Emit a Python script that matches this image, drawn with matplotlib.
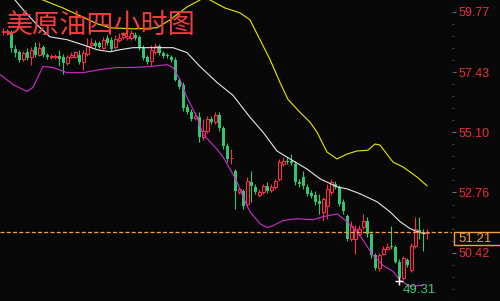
import matplotlib
matplotlib.use('Agg')
import matplotlib.pyplot as plt
import matplotlib.transforms as mtransforms
from matplotlib.patches import Rectangle
import numpy as np

bg = '#080808'
up_col = '#f5304a'
down_col = '#35c46f'

# four-hour candles (price units)
opens = [59.00, 59.00, 59.00, 58.34, 58.22, 57.95, 58.22, 58.03, 58.42, 58.11,
         58.42, 58.11, 58.03, 58.03, 58.07, 58.03, 57.80, 58.03, 58.03, 58.11,
         57.84, 58.15, 58.49, 58.57, 58.57, 58.38, 58.77, 58.69, 58.42, 58.69,
         58.80, 58.77, 58.77, 58.88, 58.80, 58.38, 58.03, 57.88, 58.22, 58.46,
         58.19, 58.11, 58.03, 57.92, 57.14, 56.95, 56.06, 55.87, 55.64, 55.68,
         54.91, 55.14, 55.60, 55.49, 55.76, 55.25, 54.56, 54.08, 53.59, 52.78,
         52.82, 52.32, 53.17, 52.98, 52.67, 52.78, 53.02, 52.86, 52.98, 53.29,
         53.86, 53.98, 53.98, 53.86, 53.17, 53.36, 52.98, 52.75, 52.67, 52.44,
         52.01, 52.24, 52.78, 53.09, 52.98, 52.40, 51.86, 50.97, 50.97, 51.16,
         51.43, 51.67, 51.16, 50.32, 49.82, 50.39, 50.58, 50.67, 50.66, 50.08,
         49.43, 50.12, 49.74, 50.70, 51.32, 51.20, 51.19]
highs = [59.15, 59.11, 59.07, 58.49, 58.30, 58.26, 58.38, 58.42, 58.61, 58.61,
         58.49, 58.19, 58.15, 58.15, 58.30, 58.15, 58.11, 58.22, 58.26, 58.30,
         58.30, 58.77, 58.77, 58.69, 58.65, 58.80, 58.88, 58.80, 58.88, 58.96,
         59.00, 58.96, 59.07, 59.00, 58.88, 58.49, 58.11, 58.49, 58.57, 58.53,
         58.26, 58.19, 58.11, 58.03, 57.22, 57.03, 56.18, 55.99, 55.87, 55.87,
         55.60, 55.72, 55.72, 55.87, 55.87, 55.33, 54.67, 54.44, 53.67, 52.98,
         52.90, 53.36, 53.59, 53.09, 52.90, 53.09, 53.17, 53.09, 53.29, 54.06,
         54.14, 54.14, 54.25, 53.98, 53.29, 53.59, 53.09, 52.86, 52.82, 52.71,
         52.59, 53.09, 53.29, 53.21, 53.05, 52.51, 51.93, 51.67, 51.51, 51.51,
         51.93, 51.82, 51.28, 50.43, 50.43, 50.70, 50.78, 51.47, 50.74, 50.16,
         50.28, 50.20, 50.78, 51.82, 51.82, 51.36, 51.36]
lows = [58.88, 58.88, 58.22, 58.03, 57.84, 57.88, 57.92, 57.72, 58.03, 58.07,
        58.03, 57.95, 57.95, 57.95, 57.68, 57.34, 57.72, 57.99, 57.99, 57.76,
        57.53, 58.07, 58.42, 58.38, 58.38, 58.34, 58.49, 58.26, 58.34, 58.61,
        58.73, 58.69, 58.69, 58.69, 58.30, 57.92, 57.76, 57.65, 58.15, 58.11,
        57.99, 57.99, 57.84, 57.07, 56.76, 55.91, 55.80, 55.52, 55.56, 54.71,
        54.79, 55.06, 55.41, 55.41, 55.14, 54.44, 53.94, 53.86, 52.13, 52.71,
        52.13, 52.24, 52.40, 52.71, 52.59, 52.71, 52.75, 52.78, 52.90, 53.21,
        53.79, 53.86, 53.83, 53.05, 52.98, 52.90, 52.63, 52.55, 52.28, 51.93,
        51.67, 51.74, 52.67, 52.90, 52.24, 51.93, 50.89, 50.89, 50.39, 51.09,
        51.36, 51.05, 50.20, 49.74, 49.70, 50.32, 50.51, 50.58, 50.01, 49.31,
        49.35, 49.85, 49.66, 50.62, 50.97, 50.47, 50.97]
closes = [59.01, 59.01, 58.38, 58.19, 57.92, 58.19, 57.99, 58.30, 58.11, 58.38,
          58.11, 58.03, 58.07, 58.07, 57.95, 57.80, 58.03, 58.11, 58.22, 57.84,
          58.19, 58.46, 58.57, 58.46, 58.42, 58.69, 58.57, 58.34, 58.73, 58.77,
          58.88, 58.84, 58.96, 58.77, 58.38, 57.99, 57.84, 58.30, 58.46, 58.19,
          58.07, 58.07, 57.92, 57.14, 56.87, 56.03, 55.87, 55.60, 55.72, 54.91,
          55.14, 55.60, 55.49, 55.76, 55.25, 54.56, 54.06, 54.10, 52.82, 52.90,
          52.24, 53.21, 53.02, 52.78, 52.78, 53.02, 52.82, 52.98, 53.21, 53.94,
          53.98, 53.94, 53.90, 53.17, 53.09, 53.02, 52.71, 52.63, 52.40, 52.32,
          52.51, 52.90, 53.17, 52.98, 52.32, 52.05, 50.97, 51.47, 51.36, 51.36,
          51.67, 51.16, 50.32, 49.82, 50.32, 50.58, 50.66, 50.65, 50.08, 49.43,
          50.20, 49.93, 50.70, 51.36, 51.24, 51.18, 51.21]

# bollinger band traces (candle index, price)
upper_idx = [-0.75, 10, 15, 19.25, 23.5, 26.75, 33, 38.5, 41.75, 46, 49.25, 50.5,
             51.75, 55.5, 59.25, 61.75, 64.25, 66.75, 69.25, 71.25, 74.25, 76.75,
             78.5, 81, 83.5, 86, 88.5, 91.25, 93, 94.25, 97.5, 100, 103.5, 106]
upper_val = [61.00, 60.23, 59.92, 59.62, 59.31, 59.15, 59.11, 59.15, 59.46, 59.96,
             60.23, 60.43, 60.23, 59.92, 59.73, 59.46, 58.69, 57.92, 57.03, 56.37,
             55.87, 55.49, 55.10, 54.33, 54.06, 54.25, 54.37, 54.40, 54.64, 54.60,
             53.94, 53.75, 53.36, 53.02]
mid_idx = [-0.75, 3, 5.5, 8.5, 11.75, 16, 20, 23.5, 26.75, 29.25, 32.5, 38.5, 42.5,
           46, 49.25, 53.5, 57.5, 61.75, 65, 68.5, 71.75, 76, 79.25, 83.5, 86,
           89.25, 93.5, 96.75, 99.25, 101.75, 103.5, 105.5]
mid_val = [60.62, 60.23, 59.77, 59.27, 58.80, 58.69, 58.49, 58.30, 58.22, 58.30,
           58.38, 58.38, 58.38, 58.19, 57.65, 57.03, 56.53, 55.68, 55.10, 54.37,
           54.06, 53.67, 53.29, 52.98, 52.90, 52.71, 52.40, 52.01, 51.63, 51.36,
           51.24, 51.16]
lower_idx = [-0.75, 2.5, 6, 7.5, 10, 12.5, 16, 20, 24.25, 28.5, 32.5, 36.75, 41,
             42.5, 44.25, 46, 48.5, 50, 53.5, 55, 56.75, 58.5, 60, 61.75, 64.25,
             66, 67.5, 70, 73.5, 77.5, 80, 83.5, 86, 89.25, 92.5, 95, 97.5, 99.25,
             101.75, 105]
lower_val = [57.34, 56.95, 56.68, 56.84, 57.65, 57.61, 57.41, 57.41, 57.53, 57.61,
             57.61, 57.65, 57.72, 57.61, 57.14, 56.45, 55.68, 55.02, 54.44, 54.14,
             53.67, 53.17, 52.59, 52.01, 51.55, 51.40, 51.47, 51.67, 51.74, 51.70,
             51.82, 51.93, 51.63, 51.09, 50.32, 49.93, 49.70, 49.35, 49.12, 49.16]

price_ticks = [59.77, 57.43, 55.10, 52.76, 50.42]
last_price = 51.21
title = '美原油四小时图'

plt.rcParams['lines.scale_dashes'] = False
fig = plt.figure(figsize=(5, 3.01), dpi=100, facecolor=bg)
ax = fig.add_axes([0, 0, 0.904, 1])
ax.set_facecolor(bg)
ax.set_xlim(-0.75, 112.25)
ax.set_ylim(48.62, 60.23)
for s in ax.spines.values():
    s.set_visible(False)

w = 0.75
for i in range(len(opens)):
    o, h, l, c = opens[i], highs[i], lows[i], closes[i]
    top, bot = max(o, c), min(o, c)
    hgt = max(top - bot, 0.03)
    if c >= o:
        ax.vlines(i, top, h, color=up_col, lw=0.8, zorder=2)
        ax.vlines(i, l, bot, color=up_col, lw=0.8, zorder=2)
        ax.bar(i, hgt, bottom=bot, width=w, facecolor=bg, edgecolor=up_col,
               linewidth=0.8, zorder=3)
    else:
        ax.vlines(i, l, h, color=down_col, lw=0.8, zorder=2)
        ax.bar(i, hgt, bottom=bot, width=w, color=down_col, linewidth=0, zorder=3)

ax.plot(upper_idx, upper_val, color='#e8e800', lw=0.8, zorder=4)
ax.plot(mid_idx, mid_val, color='#e6e6e6', lw=0.8, zorder=4)
ax.plot(lower_idx, lower_val, color='#d22ad2', lw=0.8, zorder=4)

ax.axhline(last_price, color='#f0a040', lw=0.9, dashes=(2.9, 1.6), zorder=5)

ax.yaxis.tick_right()
ax.set_yticks(price_ticks)
ax.set_yticklabels(['%.2f' % p for p in price_ticks])
step = (price_ticks[0] - price_ticks[1]) / 5
ax.set_yticks(np.arange(price_ticks[-1] - 4 * step, 60.23, step), minor=True)
ax.tick_params(axis='y', which='major', length=3, width=0.8, color='#777777',
               labelcolor='#e8303a', labelsize=9, pad=2)
ax.tick_params(axis='y', which='minor', length=1.5, width=0.8, color='#444444')
for t in ax.get_yticklabels():
    t.set_family('Liberation Sans')
ax.set_xticks([])

# current price tag on the right, box runs off the edge like the original
trans = mtransforms.blended_transform_factory(ax.transAxes, ax.transData)
ax.add_patch(Rectangle((1.004, last_price - 0.50), 0.2, 0.50, transform=trans,
                       fc=bg, ec='#f0a040', lw=1, clip_on=False, zorder=6))
ax.text(1.014, last_price - 0.25, '51.21', transform=trans, va='center', ha='left',
        fontsize=9.5, color='#f0a040', family='Liberation Sans',
        clip_on=False, zorder=7)

low_i = int(np.argmin(lows))
ax.plot(low_i, lows[low_i], marker='+', color='white', ms=6, mew=1, zorder=6)
ax.annotate('%.2f' % lows[low_i], xy=(low_i, lows[low_i]), xytext=(3, -2),
            textcoords='offset points', va='top', ha='left', fontsize=9.5,
            color='#3cc878', family='Liberation Sans', zorder=6)

fig.text(0.012, 1 - 13 / 301, title, va='top', ha='left', fontsize=19.5,
         color='#f03c3c', family=['Noto Sans CJK SC', 'DejaVu Sans'])

fig.savefig('out.png', dpi=100, facecolor=bg)
